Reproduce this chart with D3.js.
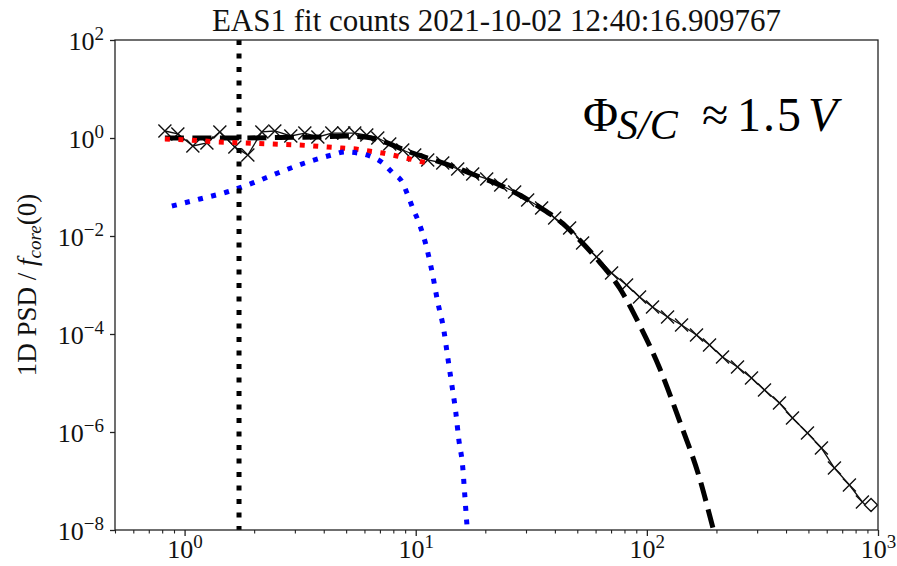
<!DOCTYPE html>
<html>
<head>
<meta charset="utf-8">
<script src="https://cdn.jsdelivr.net/npm/d3@7"></script>
<style>
body { margin: 0; background: #fff; }
svg { display: block; font-family: 'Liberation Serif', 'DejaVu Serif', serif; }
</style>
</head>
<body>
<div id="chart"></div>
<script>
const energy = [0.822, 0.935, 1.086, 1.249, 1.421, 1.650, 1.878, 2.159, 2.457, 2.881,
    3.313, 3.771, 4.334, 4.884, 5.448, 6.141, 6.851, 7.720, 8.786, 9.901,
    11.27, 13.09, 15.19, 17.64, 20.28, 23.32, 26.79, 30.50, 35.05, 39.91,
    46.33, 52.72, 60.60, 70.37, 81.70, 92.99, 105.8, 122.9, 141.3, 164.0,
    186.7, 212.5, 246.7, 283.6, 322.8, 374.8, 426.6, 495.2, 569.2, 647.9,
    752.1, 856.1];
const psd = [1.39, 1.21, 0.687, 0.791, 1.33, 0.655, 0.450, 1.33, 1.39, 1.10,
    1.26, 1.05, 1.26, 1.26, 1.26, 1.15, 1.00, 0.754, 0.569, 0.450,
    0.356, 0.309, 0.233, 0.184, 0.146, 0.110, 0.0791, 0.0543, 0.0373, 0.0233,
    0.0146, 0.00720, 0.00373, 0.00176, 0.00100, 5.69e-4, 3.56e-4, 2.22e-4, 1.53e-4, 9.54e-5,
    5.97e-5, 3.40e-5, 2.12e-5, 1.27e-5, 7.20e-6, 3.91e-6, 1.93e-6, 9.54e-7, 4.71e-7, 1.84e-7,
    8.28e-8, 3.73e-8];
// Last point, drawn as a diamond.
const lastEnergy = 933, lastPsd = 3.24e-8;

// Total fit (black dashed).
const fitEnergy = [0.822, 1.164, 1.735, 2.583, 3.846, 4.932, 6.018, 6.99, 8.115, 9.42,
    10.94, 13.09, 15.49, 18.91, 23.08, 28.16, 34.36, 41.94, 51.17, 62.44,
    76.2, 93.0, 113.5, 138.5, 169.0, 194.2, 202.2];
const fitPsd = [1.0, 1.0, 1.0, 1.024, 1.048, 1.099, 1.048, 0.910, 0.687, 0.518,
    0.409, 0.309, 0.233, 0.160, 0.110, 0.0686, 0.0389, 0.0203, 0.00828, 0.00294,
    8.69e-4, 1.53e-4, 2.02e-5, 1.68e-6, 1.15e-7, 1e-8, 4.9e-9];

// Core component (red dotted).
const coreEnergy = [0.822, 1.054, 1.212, 1.379, 1.823, 2.409, 3.151, 4.164, 4.786, 5.503,
    6.263, 7.199, 8.277, 9.42, 10.72, 11.84];
const corePsd = [0.954, 0.910, 0.869, 0.829, 0.791, 0.754, 0.719, 0.655, 0.625, 0.596,
    0.543, 0.494, 0.430, 0.373, 0.324, 0.295];

// Second component (blue dotted).
const blueEnergy = [0.881, 1.164, 1.524, 1.974, 2.532, 3.313, 4.334, 4.932, 5.614, 6.326,
    7.199, 7.954, 8.786, 9.234, 9.705, 10.30, 11.16, 11.84, 12.45, 13.21,
    13.75, 14.31, 14.90, 15.35, 15.97, 16.29, 16.62, 16.8];
const bluePsd = [0.0409, 0.0569, 0.0791, 0.121, 0.193, 0.309, 0.450, 0.518, 0.494, 0.430,
    0.309, 0.193, 0.121, 0.0687, 0.0373, 0.0193, 0.00569, 0.00160, 4.50e-4, 1.26e-4,
    3.40e-5, 9.54e-6, 2.56e-6, 7.20e-7, 1.93e-7, 5.43e-8, 1.46e-8, 8e-9];

// Spacecraft potential marker.
const scPotential = 1.72;

// Ticks.
const xMajor = [1, 10, 100, 1000];
const xExp = ['0', '1', '2', '3'];
const yMajor = [1e-8, 1e-6, 1e-4, 1e-2, 1, 1e2];
const yExp = ['\u22128', '\u22126', '\u22124', '\u22122', '0', '2'];

const title = 'EAS1 fit counts 2021-10-02 12:40:16.909767';

/******************************************************************************/

const width = 897, height = 566;
const plotLeft = 115, plotRight = 878, plotTop = 40, plotBottom = 530;

const svg = d3.select('#chart').append('svg')
    .attr('width', width)
    .attr('height', height);

const x = d3.scaleLog().domain([0.5, 1000]).range([plotLeft, plotRight]);
const y = d3.scaleLog().domain([1e-8, 1e2]).range([plotBottom, plotTop]);

svg.append('clipPath').attr('id', 'plotClip')
    .append('rect')
    .attr('x', plotLeft).attr('y', plotTop)
    .attr('width', plotRight - plotLeft).attr('height', plotBottom - plotTop);

const plot = svg.append('g').attr('clip-path', 'url(#plotClip)');
const line = d3.line().x(d => x(d[0])).y(d => y(d[1]));
const smoothLine = d3.line().x(d => x(d[0])).y(d => y(d[1])).curve(d3.curveMonotoneX);

// Data: thin line with crosses.
plot.append('path')
    .datum(d3.zip(energy, psd))
    .attr('d', line)
    .attr('fill', 'none')
    .attr('stroke', '#111')
    .attr('stroke-width', 1.3);
plot.selectAll('.cross')
    .data(d3.zip(energy, psd))
    .enter()
    .append('path')
    .attr('class', 'cross')
    .attr('transform', d => 'translate(' + x(d[0]) + ',' + y(d[1]) + ')')
    .attr('d', 'M-6.5,-6.5L6.5,6.5M-6.5,6.5L6.5,-6.5')
    .attr('stroke', '#111')
    .attr('stroke-width', 1.4);
plot.append('path')
    .attr('transform', 'translate(' + x(lastEnergy) + ',' + y(lastPsd) + ')')
    .attr('d', 'M0,-6.5L6.5,0L0,6.5L-6.5,0Z')
    .attr('fill', '#fff')
    .attr('stroke', '#111')
    .attr('stroke-width', 1.4);

// Fit curves.
plot.append('path')
    .datum(d3.zip(fitEnergy, fitPsd))
    .attr('d', smoothLine)
    .attr('fill', 'none')
    .attr('stroke', '#000')
    .attr('stroke-width', 5)
    .attr('stroke-dasharray', '19,8.5');
plot.append('path')
    .datum(d3.zip(coreEnergy, corePsd))
    .attr('d', line)
    .attr('fill', 'none')
    .attr('stroke', '#ff0000')
    .attr('stroke-width', 5)
    .attr('stroke-dasharray', '5,8.5');
plot.append('path')
    .datum(d3.zip(blueEnergy, bluePsd))
    .attr('d', smoothLine)
    .attr('fill', 'none')
    .attr('stroke', '#0000ff')
    .attr('stroke-width', 5)
    .attr('stroke-dasharray', '5,8.5');

// Vertical dotted line.
plot.append('line')
    .attr('x1', x(scPotential)).attr('x2', x(scPotential))
    .attr('y1', plotTop).attr('y2', plotBottom)
    .attr('stroke', '#000')
    .attr('stroke-width', 5)
    .attr('stroke-dasharray', '5,8.5');

// Axes.
const xMinor = x.ticks().filter(v => !xMajor.includes(v));
svg.append('g')
    .attr('transform', 'translate(0,' + plotBottom + ')')
    .call(d3.axisBottom(x).tickValues(xMinor).tickSize(3.5).tickFormat(''))
    .call(g => g.select('.domain').remove())
    .selectAll('line').attr('stroke', '#222').attr('stroke-width', 1.1);

const xAxis = svg.append('g')
    .attr('transform', 'translate(0,' + plotBottom + ')')
    .call(d3.axisBottom(x).tickValues(xMajor).tickSize(6).tickFormat(''))
    .call(g => g.select('.domain').remove());
xAxis.selectAll('line').attr('stroke', '#222').attr('stroke-width', 1.3);
xAxis.selectAll('.tick text')
    .attr('y', 28).attr('dy', null)
    .attr('font-size', 26).attr('fill', '#111')
    .each(function (d, i) {
        const t = d3.select(this);
        t.append('tspan').text('10');
        t.append('tspan').attr('dy', -10).attr('font-size', 19).text(xExp[i]);
    });

const yAxis = svg.append('g')
    .attr('transform', 'translate(' + plotLeft + ',0)')
    .call(d3.axisLeft(y).tickValues(yMajor).tickSize(5).tickPadding(6).tickFormat(''))
    .call(g => g.select('.domain').remove());
yAxis.selectAll('line').attr('stroke', '#222').attr('stroke-width', 1.3);
yAxis.selectAll('.tick text')
    .attr('y', 9).attr('dy', null)
    .attr('font-size', 26).attr('fill', '#111')
    .each(function (d, i) {
        const t = d3.select(this);
        t.append('tspan').text('10');
        t.append('tspan').attr('dy', -10).attr('font-size', 19).text(yExp[i]);
    });
xAxis.attr('font-family', null).attr('font-size', null);
yAxis.attr('font-family', null).attr('font-size', null);

// Frame.
svg.append('rect')
    .attr('x', plotLeft).attr('y', plotTop)
    .attr('width', plotRight - plotLeft).attr('height', plotBottom - plotTop)
    .attr('fill', 'none')
    .attr('stroke', '#222')
    .attr('stroke-width', 1.3);

// Title.
svg.append('text')
    .attr('x', (plotLeft + plotRight) / 2).attr('y', 31)
    .attr('text-anchor', 'middle')
    .attr('font-size', 31)
    .attr('fill', '#111')
    .text(title);

// Y label.
const yLabel = svg.append('text')
    .attr('transform', 'translate(36,' + (plotTop + plotBottom) / 2 + ') rotate(-90)')
    .attr('text-anchor', 'middle')
    .attr('font-size', 27)
    .attr('fill', '#111');
yLabel.append('tspan').text('1D PSD / ');
yLabel.append('tspan').attr('font-style', 'italic').text('f');
yLabel.append('tspan').attr('font-style', 'italic').attr('font-size', 19).attr('dy', 5).text('core');
yLabel.append('tspan').attr('dy', -5).text('(0)');

// Annotation.
const note = svg.append('g').attr('fill', '#000');
note.append('text').attr('x', 583).attr('y', 131).attr('font-size', 48).text('\u03A6');
note.append('text').attr('x', 617).attr('y', 139).attr('font-size', 42)
    .attr('font-style', 'italic').text('S/C');
note.append('text').attr('x', 702).attr('y', 131).attr('font-size', 48).text('\u2248');
note.append('text').attr('x', 737).attr('y', 131).attr('font-size', 48)
    .attr('letter-spacing', 2).text('1.5');
note.append('text').attr('x', 808).attr('y', 131).attr('font-size', 48)
    .attr('font-style', 'italic').text('V');
</script>
</body>
</html>
